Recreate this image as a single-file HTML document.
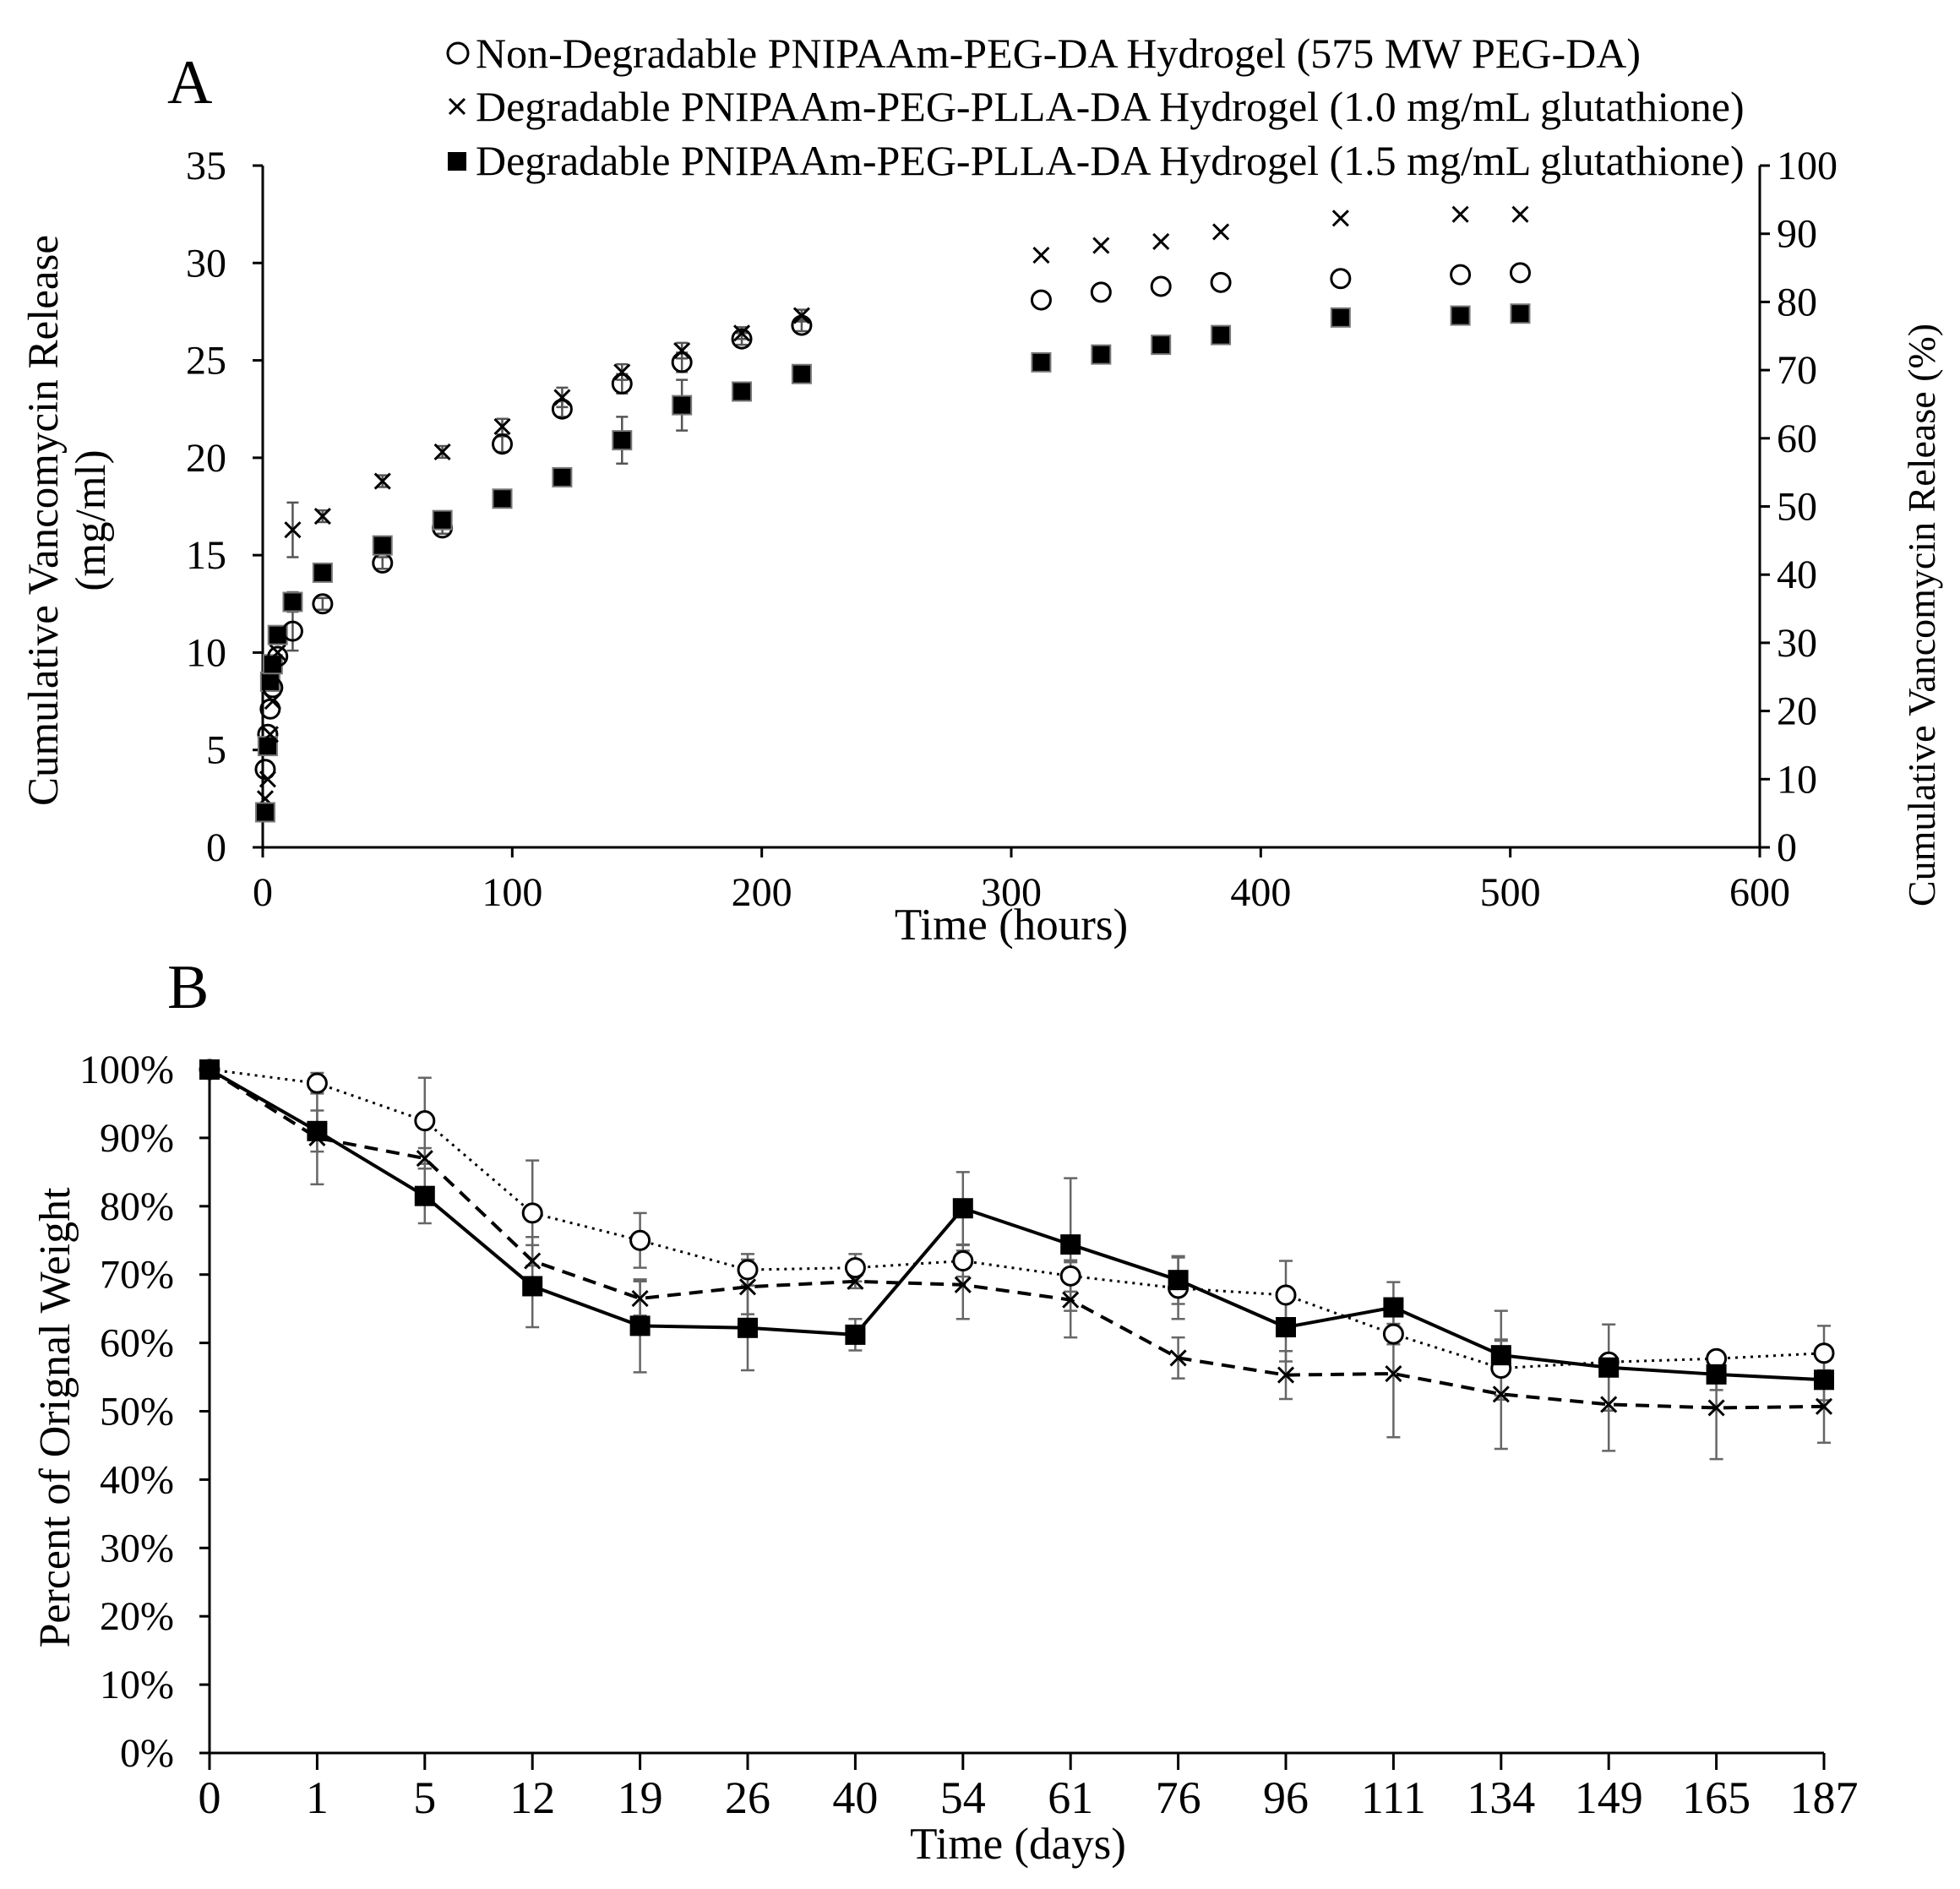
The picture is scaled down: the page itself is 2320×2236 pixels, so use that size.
<!DOCTYPE html>
<html><head><meta charset="utf-8"><style>
html,body{margin:0;padding:0;background:#fff}
svg{display:block;font-family:"Liberation Serif",serif}
</style></head><body>
<svg id="c" width="2320" height="2236" viewBox="0 0 2320 2236" xmlns="http://www.w3.org/2000/svg">
<text x="198" y="122" font-size="74">A</text>
<text x="198" y="1193" font-size="74">B</text>
<g font-size="50">
<circle cx="542" cy="63" r="12" fill="none" stroke="#000" stroke-width="3"/>
<text x="563" y="80">Non-Degradable PNIPAAm-PEG-DA Hydrogel (575 MW PEG-DA)</text>
<path d="M532 117 L550 135 M550 117 L532 135" stroke="#000" stroke-width="3"/>
<text x="563" y="143">Degradable PNIPAAm-PEG-PLLA-DA Hydrogel (1.0 mg/mL glutathione)</text>
<rect x="530" y="180" width="22" height="22" fill="#000"/>
<text x="563" y="207">Degradable PNIPAAm-PEG-PLLA-DA Hydrogel (1.5 mg/mL glutathione)</text>
</g>
<text transform="translate(70,616) rotate(-90)" text-anchor="middle" font-size="51"><tspan x="0" dy="-2">Cumulative Vancomycin Release</tspan><tspan x="0" dy="56">(mg/ml)</tspan></text>
<text transform="translate(2290,728) rotate(-90)" text-anchor="middle" font-size="46">Cumulative Vancomycin Release (%)</text>
<text x="1197" y="1112" text-anchor="middle" font-size="53">Time (hours)</text>
<text transform="translate(82,1678) rotate(-90)" text-anchor="middle" font-size="52">Percent of Orignal Weight</text>
<text x="1205" y="2200" text-anchor="middle" font-size="53">Time (days)</text>
<g id="ga"></g><g id="gb"></g>
</svg>
<script>
const aTimes=[1,2,3,4,6,12,24,48,72,96,120,144,168,192,216,312,336,360,384,432,480,504];
const aCircle=[4.0,5.8,7.1,8.2,9.8,11.1,12.5,14.6,16.4,20.7,22.5,23.8,24.9,26.1,26.8,28.1,28.5,28.8,29.0,29.2,29.4,29.5];
const aCross=[2.5,3.5,5.8,7.5,10.0,16.3,17.0,18.8,20.3,21.6,23.1,24.4,25.5,26.4,27.3,30.4,30.9,31.1,31.6,32.3,32.5,32.5];
const aSquare=[1.8,5.2,8.5,9.4,10.9,12.6,14.1,15.5,16.8,17.9,19.0,20.9,22.7,23.4,24.3,24.9,25.3,25.8,26.3,27.2,27.3,27.4];
const aCircleErr=[0,0,0,0,0,1.0,0.3,0.3,0.3,0.4,0.4,0.5,0.5,0.3,0.3,0,0,0,0,0,0,0];
const aCrossErr=[0,0,0,0,0,1.4,0.3,0.3,0.3,0.4,0.5,0.4,0.4,0.3,0.3,0,0,0,0,0,0,0];
const aSquareErr=[0,0,0,0,0,0.5,0,0,0,0,0,1.2,1.3,0,0,0,0,0,0,0,0,0];
const aXTicks=[0,100,200,300,400,500,600];
const aYTicks=[0,5,10,15,20,25,30,35];
const aY2Ticks=[0,10,20,30,40,50,60,70,80,90,100];
const bCats=["0","1","5","12","19","26","40","54","61","76","96","111","134","149","165","187"];
const bCircle=[100,98,92.5,79,75,70.7,71,72,69.8,68,67,61.3,56.3,57.2,57.7,58.5];
const bCross=[100,90,87,72,66.5,68.2,69,68.5,66.3,57.8,55.3,55.5,52.5,51,50.5,50.7];
const bSquare=[100,91,81.5,68.3,62.5,62.2,61.2,79.7,74.4,69.2,62.3,65.2,58.2,56.4,55.4,54.6];
const bCircleErr=[0,1.5,6.3,7.7,4,2.3,2,2.3,2.3,4.5,5,1.5,4,1,1,4];
const bCrossErr=[0,6.8,1.5,3.5,2.5,4,1,5,5.5,3,3.5,9.3,8,6.8,7.5,5.3];
const bSquareErr=[0,3,4,6,6.8,6.2,2.3,5.3,9.7,3.5,5,3.7,6.5,6.3,2.3,3];
const bYTicks=[0,10,20,30,40,50,60,70,80,90,100];
const NS="http://www.w3.org/2000/svg";
function mk(p,t,a){const e=document.createElementNS(NS,t);for(const k in a)e.setAttribute(k,a[k]);p.appendChild(e);return e;}
const ga=document.getElementById('ga');
const ax=v=>311+v/600*(2083-311), ay=v=>1003-v/35*(1003-196), ay2=v=>1003-v/100*(1003-196);
let e=mk(ga,'path',{d:`M311 196 V1003 H2083 V196`,fill:'none',stroke:'#000','stroke-width':3});


aYTicks.forEach(v=>{mk(ga,'line',{x1:311,x2:299,y1:ay(v),y2:ay(v),stroke:'#000','stroke-width':3});
 e=mk(ga,'text',{x:268,y:ay(v)+16,'text-anchor':'end','font-size':48});e.textContent=v;
 
 });
aY2Ticks.forEach(v=>{mk(ga,'line',{x1:2083,x2:2095,y1:ay2(v),y2:ay2(v),stroke:'#000','stroke-width':3});
 e=mk(ga,'text',{x:2103,y:ay2(v)+16,'font-size':48});e.textContent=v;
 
 });
aXTicks.forEach(v=>{mk(ga,'line',{x1:ax(v),x2:ax(v),y1:1003,y2:1015,stroke:'#000','stroke-width':3});
 e=mk(ga,'text',{x:ax(v),y:1072,'text-anchor':'middle','font-size':48});e.textContent=v;
 
 });
function errA(x,v,d){if(!d)return;mk(ga,'path',{d:`M${x} ${ay(v-d)} V${ay(v+d)} M${x-7} ${ay(v-d)} h14 M${x-7} ${ay(v+d)} h14`,stroke:'#555','stroke-width':2.5,fill:'none'});}
aTimes.forEach((t,i)=>{const x=ax(t);
 errA(x,aCircle[i],aCircleErr[i]);errA(x,aCross[i],aCrossErr[i]);errA(x,aSquare[i],aSquareErr[i]);
 e=mk(ga,'circle',{cx:x,cy:ay(aCircle[i]),r:11,fill:'none',stroke:'#000','stroke-width':3});
 
 
 const y=ay(aCross[i]);
 e=mk(ga,'path',{d:`M${x-9} ${y-9} L${x+9} ${y+9} M${x+9} ${y-9} L${x-9} ${y+9}`,stroke:'#000','stroke-width':3});
 
 
 e=mk(ga,'rect',{x:x-11,y:ay(aSquare[i])-11,width:22,height:22,fill:'#000',stroke:'#777','stroke-width':2});
 
 });
const gb=document.getElementById('gb');
const bx=i=>248+i*(2159-248)/15, by=v=>2075-v/100*(2075-1266);
e=mk(gb,'path',{d:`M248 1266 V2075 H2159`,fill:'none',stroke:'#000','stroke-width':3});


bYTicks.forEach(v=>{mk(gb,'line',{x1:248,x2:236,y1:by(v),y2:by(v),stroke:'#000','stroke-width':3});
 e=mk(gb,'text',{x:206,y:by(v)+16,'text-anchor':'end','font-size':48});e.textContent=v+'%';
 
 });
bCats.forEach((c,i)=>{mk(gb,'line',{x1:bx(i),x2:bx(i),y1:2075,y2:2095,stroke:'#000','stroke-width':3});
 e=mk(gb,'text',{x:bx(i),y:2146,'text-anchor':'middle','font-size':54});e.textContent=c;
 
 });
function errB(i,v,d){if(!d)return;const x=bx(i);mk(gb,'path',{d:`M${x} ${by(v-d)} V${by(v+d)} M${x-8} ${by(v-d)} h16 M${x-8} ${by(v+d)} h16`,stroke:'#666','stroke-width':2.5,fill:'none'});}
bCats.forEach((c,i)=>{errB(i,bCircle[i],bCircleErr[i]);errB(i,bCross[i],bCrossErr[i]);errB(i,bSquare[i],bSquareErr[i]);});
function line(arr,dash,w,name){e=mk(gb,'polyline',{points:arr.map((v,i)=>bx(i)+','+by(v)).join(' '),fill:'none',stroke:'#000','stroke-width':w,'stroke-dasharray':dash});
 
 }
line(bCircle,'3 6',3,'line-nondegradable');
line(bCross,'16 10',4,'line-degradable-1.0');
line(bSquare,'none',4,'line-degradable-1.5');
bCats.forEach((c,i)=>{const x=bx(i);
 e=mk(gb,'circle',{cx:x,cy:by(bCircle[i]),r:11,fill:'#fff',stroke:'#000','stroke-width':3});
 
 
 const y=by(bCross[i]);
 e=mk(gb,'path',{d:`M${x-9} ${y-9} L${x+9} ${y+9} M${x+9} ${y-9} L${x-9} ${y+9}`,stroke:'#000','stroke-width':3});
 
 
 e=mk(gb,'rect',{x:x-12,y:by(bSquare[i])-12,width:24,height:24,fill:'#000'});
 
 });
</script>
</body></html>
